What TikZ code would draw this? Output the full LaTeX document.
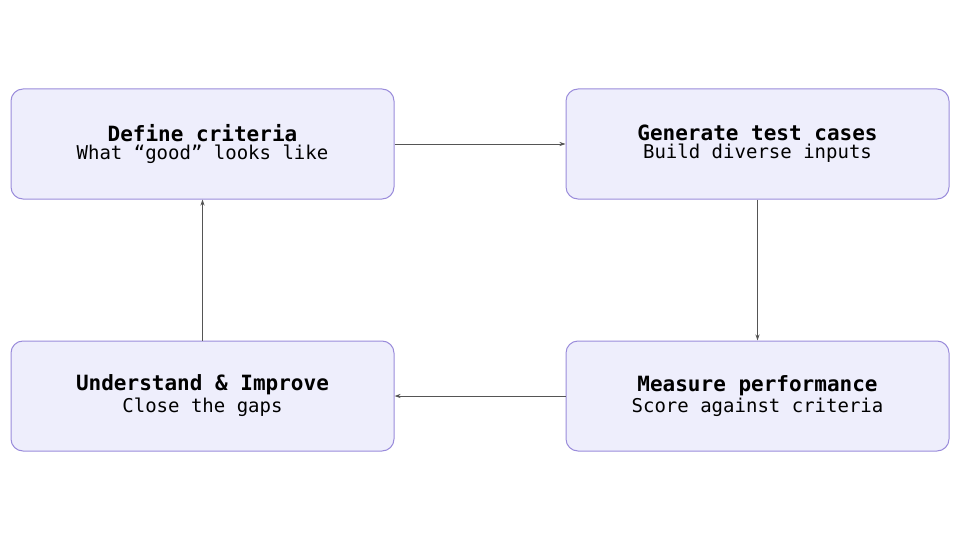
\documentclass[tikz,border=0pt]{standalone}
\usepackage{fontspec}
\setmonofont{DejaVu Sans Mono}
\usetikzlibrary{arrows.meta}
\definecolor{boxfill}{HTML}{EEEEFC}
\definecolor{boxline}{HTML}{9A8CDB}
\definecolor{arr}{HTML}{555555}
\tikzset{
  stage/.style={draw=boxline, fill=boxfill, line width=1pt, rounded corners=12pt,
    minimum width=383pt, minimum height=110pt, inner sep=0pt, align=center,
    font=\ttfamily},
  conn/.style={draw=arr, line width=0.8pt, -{Stealth[length=6pt,width=4pt]}}
}
\newcommand{\ttl}[1]{{\fontsize{21}{24}\selectfont\bfseries #1}}
\newcommand{\subt}[1]{{\fontsize{19}{22}\selectfont #1}}
\begin{document}
\begin{tikzpicture}[x=1pt,y=-1pt]
\useasboundingbox (0,0) rectangle (960,540);
\node[stage] (a) at (202.5,144) {\ttl{Define criteria}\\[2pt]\subt{What “good” looks like}};
\node[stage] (b) at (757.5,144) {\ttl{Generate test cases}\\[2pt]\subt{Build diverse inputs}};
\node[stage] (c) at (757.5,396) {\ttl{Measure performance}\\[2pt]\subt{Score against criteria}};
\node[stage] (d) at (202.5,396) {\ttl{Understand \& Improve}\\[2pt]\subt{Close the gaps}};
\draw[conn] (a.east) -- (b.west);
\draw[conn] (b.south) -- (c.north);
\draw[conn] (c.west) -- (d.west -| d.east);
\draw[conn] (d.north) -- (a.south);
\end{tikzpicture}
\end{document}
